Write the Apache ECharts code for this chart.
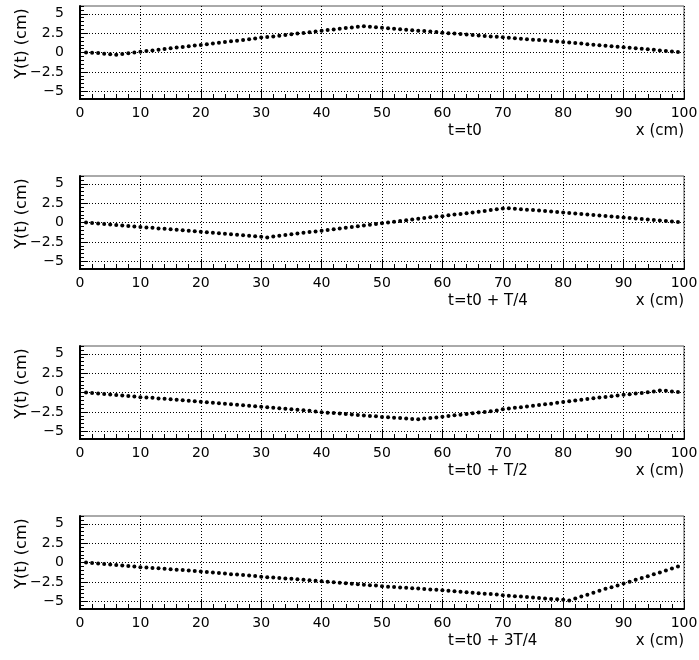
<!DOCTYPE html>
<html>
<head>
<meta charset="utf-8">
<script src="https://cdn.jsdelivr.net/npm/echarts@6/dist/echarts.min.js"></script>
<style>
	html, body { margin: 0; padding: 0; background: #fff; }
	#chart { width: 699px; height: 660px; }
</style>
</head>
<body>
<div id="chart"></div>
<script>
// displacement of the string, one value per cm from x = 1 to x = 99
var yT0 = [0, -0.02, -0.08, -0.15, -0.22, -0.28, -0.2, -0.1, 0, 0.09,
	0.18, 0.27, 0.36, 0.45, 0.54, 0.63, 0.72, 0.8, 0.9, 0.98,
	1.08, 1.17, 1.26, 1.35, 1.44, 1.53, 1.62, 1.71, 1.8, 1.92,
	2.0, 2.08, 2.17, 2.26, 2.35, 2.44, 2.53, 2.62, 2.71, 2.82,
	2.9, 2.98, 3.06, 3.15, 3.24, 3.33, 3.4, 3.32, 3.25, 3.18,
	3.12, 3.06, 3.0, 2.94, 2.88, 2.82, 2.76, 2.7, 2.63, 2.56,
	2.5, 2.44, 2.38, 2.32, 2.26, 2.2, 2.14, 2.08, 2.02, 1.96,
	1.9, 1.84, 1.78, 1.72, 1.66, 1.6, 1.54, 1.48, 1.42, 1.36,
	1.29, 1.22, 1.15, 1.08, 1.01, 0.95, 0.88, 0.81, 0.75, 0.68,
	0.61, 0.54, 0.47, 0.41, 0.34, 0.27, 0.2, 0.12, 0.05];
var yT1 = [0, -0.06, -0.12, -0.19, -0.25, -0.31, -0.38, -0.44, -0.5, -0.57,
	-0.63, -0.69, -0.76, -0.82, -0.88, -0.95, -1.01, -1.07, -1.13, -1.2,
	-1.26, -1.32, -1.39, -1.45, -1.51, -1.58, -1.64, -1.7, -1.77, -1.85,
	-1.92, -1.82, -1.72, -1.62, -1.52, -1.43, -1.33, -1.24, -1.15, -1.07,
	-0.97, -0.87, -0.77, -0.68, -0.58, -0.48, -0.39, -0.29, -0.2, -0.1,
	0, 0.1, 0.19, 0.29, 0.38, 0.48, 0.57, 0.67, 0.76, 0.8,
	0.92, 1.02, 1.1, 1.18, 1.3, 1.4, 1.5, 1.6, 1.7, 1.8,
	1.84, 1.78, 1.72, 1.66, 1.6, 1.54, 1.48, 1.42, 1.36, 1.28,
	1.22, 1.16, 1.1, 1.03, 0.97, 0.9, 0.84, 0.77, 0.71, 0.64,
	0.58, 0.52, 0.45, 0.39, 0.32, 0.26, 0.19, 0.12, 0.05];
var yT2 = [0, -0.06, -0.12, -0.19, -0.25, -0.31, -0.38, -0.44, -0.5, -0.6,
	-0.63, -0.69, -0.76, -0.82, -0.88, -0.95, -1.01, -1.07, -1.13, -1.2,
	-1.26, -1.32, -1.39, -1.45, -1.52, -1.58, -1.64, -1.7, -1.77, -1.84,
	-1.9, -1.97, -2.03, -2.1, -2.16, -2.23, -2.3, -2.37, -2.45, -2.55,
	-2.6, -2.66, -2.72, -2.78, -2.84, -2.9, -2.96, -3.02, -3.08, -3.15,
	-3.2, -3.25, -3.3, -3.36, -3.42, -3.46, -3.37, -3.3, -3.22, -3.14,
	-3.04, -2.95, -2.86, -2.77, -2.68, -2.59, -2.5, -2.41, -2.32, -2.16,
	-2.07, -1.98, -1.89, -1.8, -1.71, -1.62, -1.53, -1.44, -1.33, -1.22,
	-1.12, -1.02, -0.93, -0.84, -0.75, -0.66, -0.57, -0.48, -0.39, -0.3,
	-0.21, -0.13, -0.05, 0.03, 0.12, 0.25, 0.22, 0.12, 0.05];
var yT3 = [0, -0.06, -0.12, -0.19, -0.25, -0.31, -0.38, -0.44, -0.5, -0.6,
	-0.66, -0.7, -0.75, -0.8, -0.86, -0.92, -0.98, -1.04, -1.1, -1.17,
	-1.23, -1.29, -1.35, -1.41, -1.5, -1.56, -1.62, -1.68, -1.74, -1.85,
	-1.9, -1.95, -2.0, -2.06, -2.11, -2.17, -2.23, -2.29, -2.35, -2.42,
	-2.48, -2.54, -2.6, -2.67, -2.73, -2.8, -2.86, -2.92, -2.98, -3.06,
	-3.12, -3.17, -3.22, -3.27, -3.32, -3.37, -3.42, -3.47, -3.52, -3.58,
	-3.64, -3.7, -3.76, -3.84, -3.9, -3.96, -4.02, -4.08, -4.14, -4.22,
	-4.28, -4.34, -4.4, -4.46, -4.52, -4.58, -4.64, -4.7, -4.75, -4.8,
	-4.9, -4.65, -4.4, -4.15, -3.9, -3.65, -3.4, -3.18, -2.96, -2.72,
	-2.48, -2.24, -2.0, -1.76, -1.52, -1.28, -1.04, -0.77, -0.5];

var panels = [yT0, yT1, yT2, yT3];
var panelTitles = ['t=t0', 't=t0 + T/4', 't=t0 + T/2', 't=t0 + 3T/4'];
var yTicks = [-5, -2.5, 0, 2.5, 5];

var lineChart = echarts.init(document.getElementById('chart'), null, { renderer: 'canvas' });

var fontName = 'DejaVu Sans';
var grids = [], xAxes = [], yAxes = [], series = [], texts = [];

for (var i = 0; i < panels.length; i++) {
	var gridTop = 6 + i * 170;
	grids.push({
		left: 80, top: gridTop, width: 604, height: 93,
		outerBoundsMode: 'none',
		show: true, borderColor: '#555', borderWidth: 1, backgroundColor: 'transparent'
	});
	xAxes.push({
		gridIndex: i, type: 'value', min: 0, max: 100, interval: 10,
		axisLine: { onZero: false, lineStyle: { color: '#000', width: 2 } },
		axisTick: { inside: true, length: 10, lineStyle: { color: '#000' } },
		minorTick: { show: true, splitNumber: 5, length: 5, lineStyle: { color: '#000' } },
		axisLabel: { fontFamily: fontName, fontSize: 14, color: '#000', margin: 7 },
		splitLine: { show: true, lineStyle: { color: '#000', type: [1, 2], width: 1 } }
	});
	// main y axis: labels, long ticks and grid lines
	yAxes.push({
		gridIndex: i, type: 'value', min: -6, max: 6, position: 'left',
		name: 'Y(t) (cm)', nameLocation: 'middle', nameGap: 50, nameRotate: 90,
		nameMoveOverlap: false,
		nameTextStyle: { fontFamily: fontName, fontSize: 16, color: '#000', padding: [0, 0, 0, 18] },
		axisLine: { lineStyle: { color: '#000', width: 2 } },
		axisTick: { inside: true, length: 8, customValues: yTicks, lineStyle: { color: '#000' } },
		axisLabel: {
			fontFamily: fontName, fontSize: 14, color: '#000', margin: 16,
			customValues: yTicks,
			formatter: function (v) { return String(v).replace('-', '\u2212'); }
		},
		splitLine: { show: true, lineStyle: { color: '#000', type: [1, 2], width: 1 } }
	});
	// second y axis only for the small ticks
	yAxes.push({
		gridIndex: i, type: 'value', min: -6, max: 6, interval: 0.5, position: 'left', offset: 0,
		axisLine: { show: false },
		axisTick: { inside: true, length: 4, lineStyle: { color: '#000' } },
		axisLabel: { show: false },
		splitLine: { show: false }
	});
	series.push({
		type: 'scatter', xAxisIndex: i, yAxisIndex: i * 2,
		symbol: 'circle', symbolSize: 4, silent: true,
		itemStyle: { color: '#000', opacity: 1 },
		data: panels[i].map(function (v, k) { return [k + 1, v]; })
	});
	texts.push({
		type: 'text', left: 448, top: gridTop + 118,
		style: { text: panelTitles[i], font: '15px "' + fontName + '"', fill: '#000' }
	});
	texts.push({
		type: 'text', right: 15, top: gridTop + 118,
		style: { text: 'x (cm)', font: '15px "' + fontName + '"', fill: '#000' }
	});
}

option = {
	backgroundColor: '#fff',
	animation: false,
	grid: grids,
	xAxis: xAxes,
	yAxis: yAxes,
	series: series,
	graphic: texts
};
lineChart.setOption(option);
</script>
</body>
</html>
